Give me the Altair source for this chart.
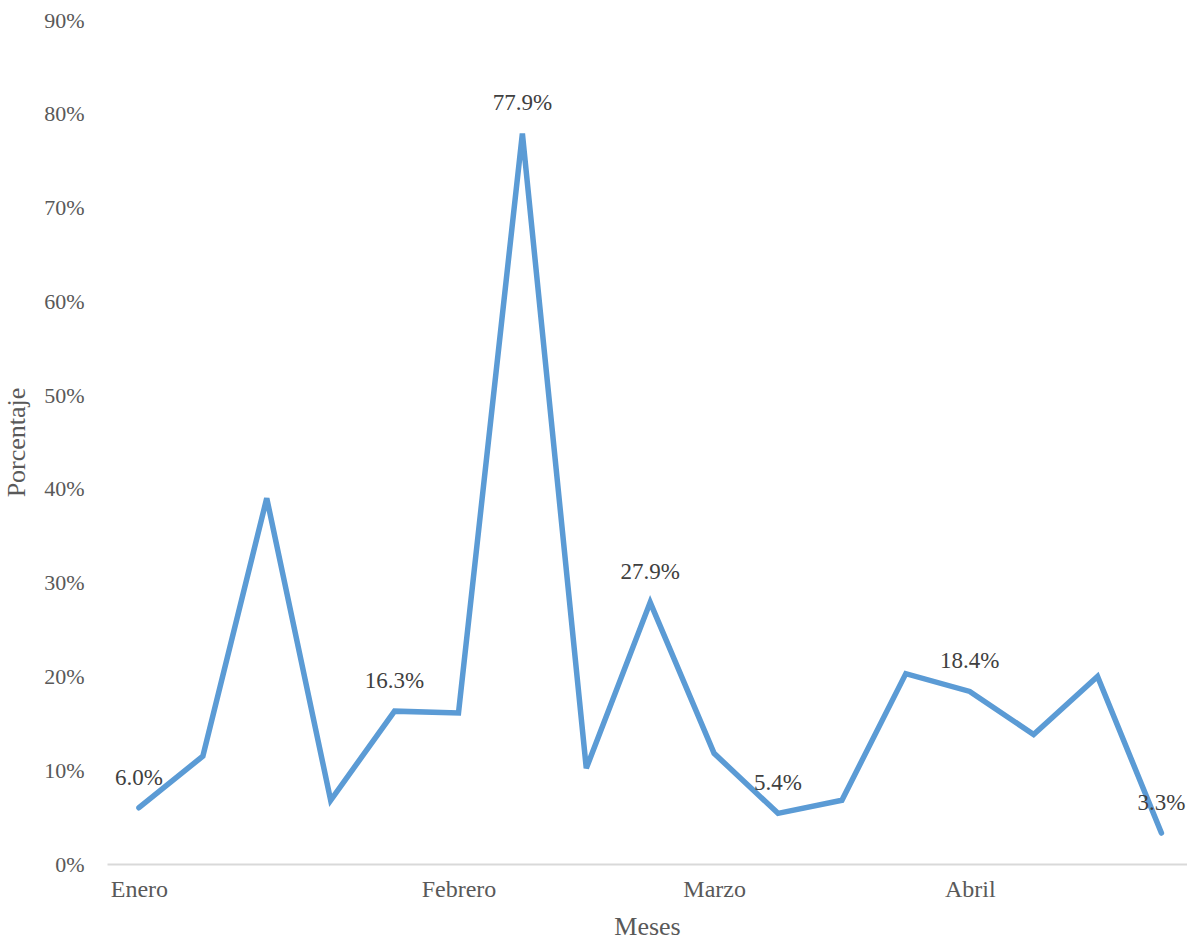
import altair as alt
import pandas as pd

values = [6.0, 11.5, 39.0, 6.8, 16.3, 16.1, 77.9, 10.2, 27.9, 11.8, 5.4, 6.8, 20.3, 18.4, 13.8, 20.0, 3.3]
label_idx = [0, 4, 6, 8, 10, 13, 16]
month_ticks = [0, 5, 9, 13]
month_names = ["Enero", "Febrero", "Marzo", "Abril"]

df = pd.DataFrame({
    "i": list(range(len(values))),
    "v": [v / 100 for v in values],
    "lab": [f"{v:.1f}%" if k in label_idx else "" for k, v in enumerate(values)],
})

label_expr = " : ".join(
    [f"datum.value == {t} ? '{n}'" for t, n in zip(month_ticks, month_names)]
) + " : ''"

FONT = "Liberation Serif"

x = alt.X("i:Q", scale=alt.Scale(domain=[-0.5, 16.4], nice=False, zero=False),
          axis=alt.Axis(values=month_ticks, labelExpr=label_expr, title="Meses",
                        grid=False, ticks=False, domain=True, domainColor="#d9d9d9",
                        domainWidth=2, labelFont=FONT, labelFontSize=24,
                        labelColor="#595959", labelPadding=13, titleFont=FONT,
                        titleFontSize=26, titleFontWeight="normal", titleColor="#595959",
                        titlePadding=12, labelAlign="center"))
y = alt.Y("v:Q", scale=alt.Scale(domain=[0, 0.9], nice=False),
          axis=alt.Axis(format=".0%", values=[i / 10 for i in range(10)], grid=False,
                        ticks=False, domain=False, title="Porcentaje",
                        labelFont=FONT, labelFontSize=22, labelColor="#595959",
                        labelPadding=23, titleFont=FONT, titleFontSize=26,
                        titleFontWeight="normal", titleColor="#595959", titlePadding=14))

base = alt.Chart(df)
line = base.mark_line(color="#5B9BD5", strokeWidth=5.5, strokeJoin="miter", strokeCap="round").encode(x=x, y=y)
text = base.mark_text(font=FONT, fontSize=23, color="#404040", dy=-30, baseline="middle").encode(
    x=x, y=y, text="lab:N")

chart = (line + text).properties(
    width=1080, height=844,
    background="white",
    autosize=alt.AutoSizeParams(type="none"),
    padding={"left": 107, "top": 20, "right": 0, "bottom": 77},
).configure_view(stroke=None)

chart.save("out.html", embed_options={"renderer": "svg", "actions": False})
